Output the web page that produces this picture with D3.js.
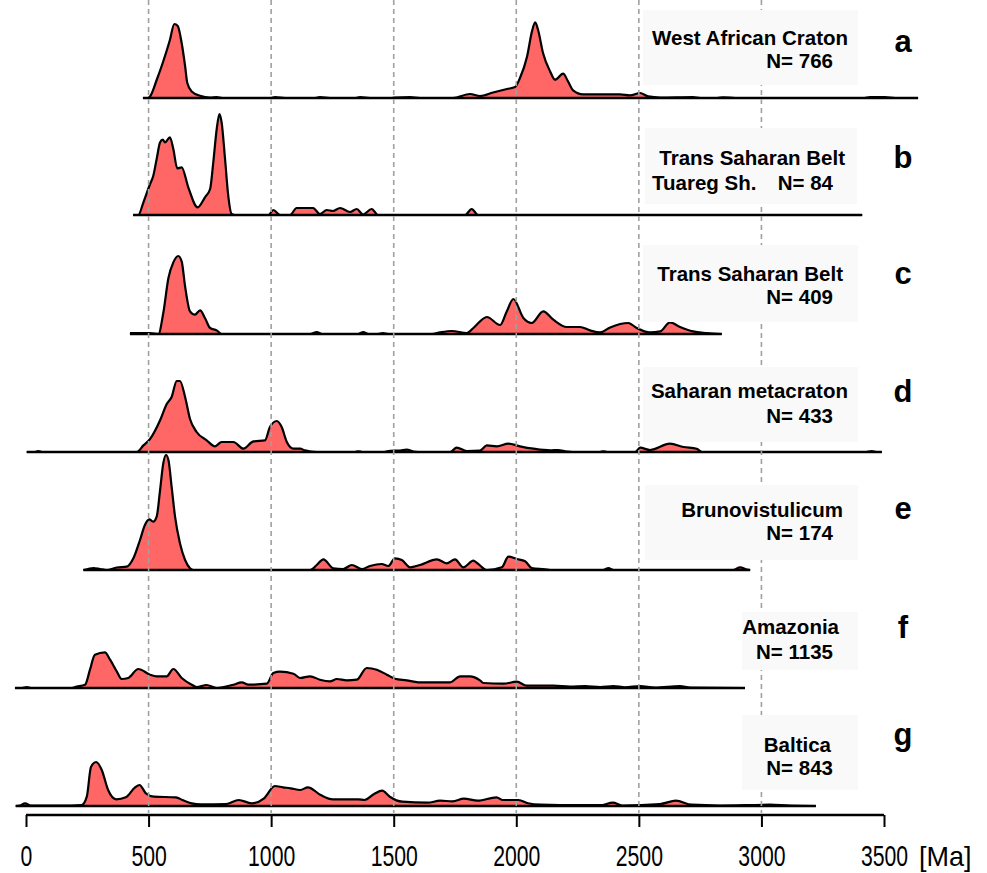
<!DOCTYPE html>
<html><head><meta charset="utf-8">
<script src="https://cdn.jsdelivr.net/npm/d3@7"></script>
<style>html,body{margin:0;padding:0;background:#fff}svg{display:block}</style>
</head><body>
<script>
// ---------- DATA ----------
const tickValues = [0, 500, 1000, 1500, 2000, 2500, 3000, 3500];
const gridValues = [500, 1000, 1500, 2000, 2500, 3000];
const unitLabel = "[Ma]";
const panelLetters = ["a", "b", "c", "d", "e", "f", "g"];
const panelNames = ["West African Craton", "Trans Saharan Belt", "Trans Saharan Belt", "Saharan metacraton", "Brunovistulicum", "Amazonia", "Baltica"];
const panelSub = ["", "Tuareg Sh.", "", "", "", "", ""];
const panelN = ["N= 766", "N= 84", "N= 409", "N= 433", "N= 174", "N= 1135", "N= 843"];
const rangeStart = [477, 437, 424, 3, 234, -45, -42];
const rangeEnd = [3639, 3411, 2838, 3491, 2954, 2933, 3222];

// [age (Ma), relative density]
const densA = [[477,0],[498,0],[506,1.5],[533,18],[559,36],[587,58],[605,74],[619,72],[635,55],[649,32],[658,15],[676,6.6],[710,2.3],[751,0.5],[778,1],[800,0],[1000,0],[1016,1],[1057,0],[1180,0],[1199,0.8],[1240,0],[1345,0],[1363,0.8],[1403,0],[1490,0],[1505,0.5],[1567,0.8],[1607,0],[1742,0],[1811,4],[1852,2],[1905,5.5],[1962,9],[1995,11],[2015,20],[2044,41.6],[2064,66.6],[2077,75.6],[2089,68],[2109,45],[2138,26.6],[2158,18.3],[2191,24.3],[2211,16.6],[2232,7.6],[2272,3.6],[2423,3.6],[2464,2.6],[2505,5],[2538,1.6],[2587,0.5],[2721,1],[2750,0],[2820,0],[2844,0.6],[2893,0],[3420,0],[3443,1],[3504,1],[3545,0],[3639,0]];
const densB = [[437,0],[458,0],[479,12.7],[506,31],[519,39],[533,56],[547,72.7],[558,75.3],[567,72.7],[587,77.7],[601,66],[617,46.7],[635,47.6],[662,27.7],[700,7.7],[730,17.7],[751,26],[764,52.7],[778,86],[789,101],[798,92.7],[812,56],[825,19.3],[839,1],[853,0],[989,0],[1009,5],[1036,0],[1077,0],[1104,7],[1171,7],[1199,1],[1227,5],[1252,4],[1281,7],[1322,3],[1349,6],[1375,0.5],[1410,6],[1436,0],[1791,0],[1818,6],[1844,0],[3411,0]];
const densC = [[424,1],[506,1],[540,0],[560,21],[581,56],[601,71.6],[621,78],[635,72.7],[649,47.6],[669,22.6],[689,19.3],[710,23.6],[730,16],[751,6],[778,3.6],[798,0],[1159,0],[1186,2],[1208,0],[1354,0],[1376,2],[1395,0],[1436,0],[1456,1],[1477,0],[1656,0],[1689,1.6],[1737,3],[1798,1],[1825,6],[1880,17],[1934,9],[1961,22.6],[1988,35],[2029,16],[2063,11],[2110,22.6],[2151,14.3],[2206,7],[2260,7],[2301,3.6],[2342,1.6],[2383,6.6],[2457,11],[2491,6],[2546,1.6],[2587,2.6],[2627,11.6],[2668,7],[2721,2.6],[2777,1],[2838,0]];
const densD = [[3,0],[37,0],[50,1],[65,0],[452,0],[479,6.6],[506,13],[547,31.7],[574,48],[594,55],[615,71],[628,71],[649,55],[669,33],[696,20],[737,11.7],[771,5.7],[798,10],[846,10],[887,3.3],[927,10.6],[975,11.7],[995,25],[1023,31],[1043,25],[1064,10],[1091,3.3],[1118,3.3],[1138,1.6],[1186,0],[1342,0],[1356,0.7],[1371,0],[1461,0],[1485,1.2],[1526,1.5],[1553,2.3],[1580,0.5],[1599,0],[1730,0],[1757,4.3],[1798,1],[1852,1.5],[1880,6.6],[1920,5.7],[1968,8.3],[2015,5.7],[2070,3.3],[2138,1.6],[2170,2],[2206,0.5],[2228,0],[2342,0],[2355,0.7],[2370,0],[2485,0],[2505,4.3],[2546,2],[2627,8.3],[2682,5],[2736,3.3],[2757,0],[3427,0],[3450,1],[3468,0],[3491,0]];
const densE = [[234,0],[253,1],[275,2],[302,1],[329,0],[370,2.5],[411,3.3],[438,11.7],[465,30],[485,45],[503,50.7],[519,48.3],[533,53.3],[547,80],[560,106.7],[571,115],[581,110],[594,83.3],[608,53.3],[628,26.7],[649,10],[669,1.7],[683,0],[1159,0],[1186,5],[1213,10.7],[1254,1.7],[1294,1],[1329,5],[1370,1],[1403,4],[1451,6],[1478,4],[1505,11.7],[1533,10],[1567,2.7],[1607,5],[1676,10.7],[1716,6.7],[1750,10.7],[1784,2.7],[1825,9.3],[1840,7],[1880,0],[1941,2.7],[1968,13.3],[2002,11],[2036,8.7],[2063,2],[2117,0.7],[2138,0],[2354,0],[2376,2],[2395,0],[2884,0],[2913,2.7],[2941,0.5],[2954,0]];
const densF = [[-45,0],[-16,0],[3,1],[20,0],[188,0],[200,1],[241,3.3],[261,18.3],[281,33.3],[322,35.7],[343,28.3],[370,16.7],[390,9],[417,10],[458,19],[506,13.3],[533,11.7],[574,11.7],[601,19],[635,10],[676,3.3],[696,1],[737,3],[778,0],[846,3.3],[880,5.7],[907,3.3],[982,4.3],[1009,15],[1036,16.3],[1091,14.3],[1118,10],[1159,11.7],[1199,8.3],[1240,6.7],[1268,9],[1308,7.7],[1349,8.3],[1390,20],[1431,18.3],[1472,13.3],[1505,9.3],[1553,7.7],[1600,5.7],[1730,5.7],[1771,11.7],[1811,11.7],[1852,7.7],[1866,5],[1947,4.3],[2002,6.3],[2043,2.3],[2151,2.3],[2219,1.5],[2281,2],[2342,1],[2396,2],[2444,0.7],[2505,2],[2566,0.5],[2668,2],[2709,0.3],[2933,0]];
const densG = [[-42,0],[-24,0.5],[-4,2.7],[20,0.5],[139,0.5],[227,1],[248,9.3],[265,39],[286,44],[309,36],[335,16],[368,6.7],[407,8.7],[445,18.7],[463,21],[489,12.7],[522,9.3],[612,8.7],[638,6],[676,2.7],[714,1.7],[816,2],[868,6],[920,2.7],[971,7.7],[1015,20],[1048,18.7],[1079,17.7],[1119,16],[1150,18.7],[1202,11],[1252,6.7],[1356,6.7],[1381,6],[1420,12],[1453,15.3],[1484,9.3],[1535,4.3],[1638,3.3],[1689,5.3],[1740,4.7],[1786,7.3],[1843,5.3],[1919,8.7],[1945,6],[2009,6],[2048,2.7],[2099,1.3],[2179,1],[2279,1],[2342,0.8],[2394,3.3],[2432,0.5],[2587,2],[2651,5.3],[2715,1.3],[2831,0.5],[3035,1.3],[3117,0.3],[3222,0]];
const densities = [densA, densB, densC, densD, densE, densF, densG];

// ---------- LAYOUT ----------
const W = 987, H = 873;
const baselines = [98, 215, 334, 452, 570, 688, 806];
const boxes = [[643,10,215,75],[645,128,212,76],[643,245,215,77],[643,367,215,75],[645,485,213,75],[742,612,116,58],[742,715,116,75]];
const nameX = [848, 845, 843, 848, 843, 839, 831];
const nameY = [45, 165, 281, 398, 517, 634, 752];
const nY = [68, 190, 304, 423, 540, 659, 775];
const letterY = [52, 168, 284, 402, 519, 638, 745];
const axisY = 815;
const FONT = "'Liberation Sans', Arial, sans-serif";

const svg = d3.select("body").append("svg").attr("width", W).attr("height", H)
  .style("font-family", FONT);

const x = d3.scaleLinear().domain([0, 3500]).range([26, 884]);
const yh = d3.scaleLinear().domain([0, 100]).range([0, 100]);

// density fills
const gPanels = svg.append("g");
densities.forEach((dens, i) => {
  const b = baselines[i];
  const area = d3.area().x(d => x(d[0])).y0(b).y1(d => b - yh(d[1])).curve(d3.curveMonotoneX);
  const line = d3.line().x(d => x(d[0])).y(d => b - yh(d[1])).curve(d3.curveMonotoneX);
  gPanels.append("path").attr("d", area(dens)).attr("fill", "#ff6666").attr("stroke", "none");
  gPanels.append("path").attr("d", line(dens)).attr("fill", "none").attr("stroke", "#000")
    .attr("stroke-width", 2.2).attr("stroke-linejoin", "round");
  gPanels.append("line").attr("x1", x(rangeStart[i])).attr("x2", x(rangeEnd[i]))
    .attr("y1", b).attr("y2", b).attr("stroke", "#000").attr("stroke-width", 2.6);
});

// grid lines
svg.append("g").selectAll("line").data(gridValues).join("line")
  .attr("x1", d => x(d)).attr("x2", d => x(d)).attr("y1", 0).attr("y2", axisY - 2)
  .attr("stroke", "#a0a0a0").attr("stroke-width", 1.6).attr("stroke-dasharray", "5,4");

// label boxes and texts
const gLab = svg.append("g");
boxes.forEach((bx, i) => {
  gLab.append("rect").attr("x", bx[0]).attr("y", bx[1]).attr("width", bx[2]).attr("height", bx[3]).attr("fill", "#f9f9f9");
  gLab.append("text").attr("x", nameX[i]).attr("y", nameY[i]).attr("text-anchor", "end")
    .attr("font-size", 20.5).attr("font-weight", "bold").text(panelNames[i]);
  if (panelSub[i]) gLab.append("text").attr("x", 652).attr("y", nY[i]).attr("font-size", 20.5).attr("font-weight", "bold").text(panelSub[i]);
  gLab.append("text").attr("x", 833).attr("y", nY[i]).attr("text-anchor", "end")
    .attr("font-size", 20.5).attr("font-weight", "bold").text(panelN[i]);
  gLab.append("text").attr("x", 903).attr("y", letterY[i]).attr("text-anchor", "middle")
    .attr("font-size", 31).attr("font-weight", "bold").text(panelLetters[i]);
});

// axis
const axis = d3.axisBottom(x).tickValues(tickValues).tickSize(12).tickFormat(d3.format("d"));
const ga = svg.append("g").attr("transform", `translate(0,${axisY})`).call(axis);
ga.select(".domain").attr("stroke", "#000").attr("stroke-width", 2.6).attr("d", `M${x(0)},0H${x(3500)}`);
ga.selectAll(".tick line").attr("stroke", "#000").attr("stroke-width", 2);
ga.selectAll(".tick text")
  .attr("font-size", 21.2).attr("fill", "#000").attr("font-family", FONT)
  .attr("y", 0).attr("dy", 0)
  .attr("transform", "translate(0,51) scale(1,1.4)");
svg.append("text").attr("font-size", 27).attr("fill", "#000")
  .attr("transform", "translate(919,866) scale(1,1.05)").text(unitLabel);
</script>
</body></html>
